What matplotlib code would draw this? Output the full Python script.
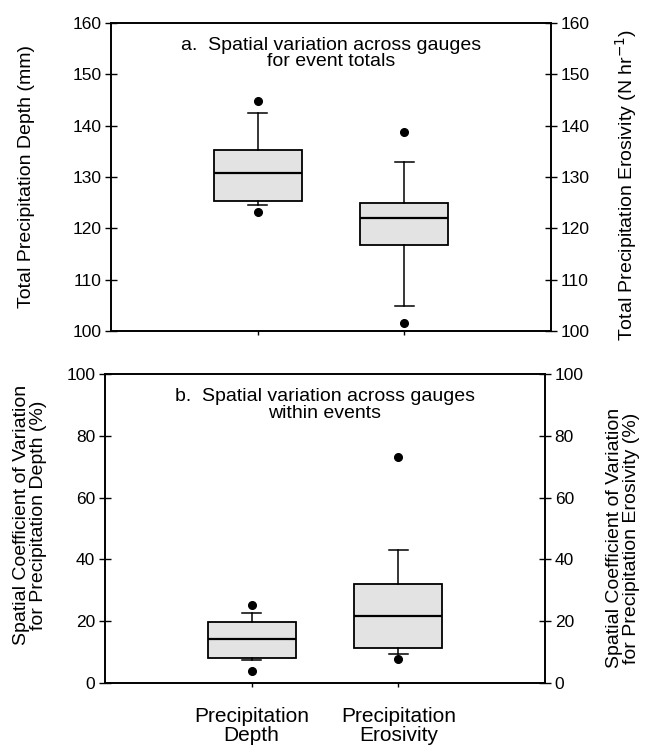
import matplotlib
matplotlib.use("Agg")
import matplotlib.pyplot as plt

plt.rcParams['font.family'] = ['Liberation Sans', 'DejaVu Sans']

# ---- data ----
categories = ["Precipitation\nDepth", "Precipitation\nErosivity"]

# panel a: event totals (q1, median, q3, whisker low, whisker high)
depth_total = [125.4, 130.7, 135.2, 124.5, 142.5]
depth_total_out = [144.8, 123.2]
eros_total = [116.7, 122.0, 125.0, 104.9, 133.0]
eros_total_out = [138.8, 101.6]

# panel b: spatial CV within events (%)
depth_cv = [8.1, 14.4, 19.6, 7.3, 22.8]
depth_cv_out = [25.3, 3.8]
eros_cv = [11.2, 21.6, 32.2, 9.5, 43.0]
eros_cv_out = [73.3, 7.8]

yticks_a = [100, 110, 120, 130, 140, 150, 160]
yticks_b = [0, 20, 40, 60, 80, 100]


def stats(vals, out):
    q1, med, q3, lo, hi = vals
    return dict(q1=q1, med=med, q3=q3, whislo=lo, whishi=hi, fliers=out)


box_kw = dict(widths=0.6, capwidths=0.13, patch_artist=True,
              boxprops=dict(facecolor="#e3e3e3", edgecolor="black", linewidth=1.3),
              medianprops=dict(color="black", linewidth=1.6),
              whiskerprops=dict(color="black", linewidth=1.1),
              capprops=dict(color="black", linewidth=1.1),
              flierprops=dict(marker="o", markerfacecolor="black",
                              markeredgecolor="black", markersize=5.5))


def panel(rect, left_stats, right_stats, ylim, yticks, title, xlabels):
    ax = fig.add_axes(rect)
    ax2 = ax.twinx()
    ax.bxp([left_stats], positions=[1], **box_kw)
    ax2.bxp([right_stats], positions=[2], **box_kw)
    for a in (ax, ax2):
        a.set_xlim(0, 3)
        a.set_ylim(*ylim)
        a.set_yticks(yticks)
        a.tick_params(axis="y", direction="inout", length=8, width=1.0,
                      labelsize=12.5, pad=3)
        for s in a.spines.values():
            s.set_linewidth(1.2)
    ax.set_xticks([1, 2])
    ax.tick_params(axis="x", direction="out", length=3, width=1.0,
                   labelsize=15, pad=14)
    if xlabels:
        ax.set_xticklabels(xlabels, linespacing=1.0)
    else:
        ax.set_xticklabels(["", ""])
    ax.text(0.5, 0.90, title, transform=ax.transAxes, ha="center",
            va="center", fontsize=14, linespacing=0.95)
    return ax, ax2


fig = plt.figure(figsize=(6.47, 7.51), dpi=100)
W, H = 647, 751

# panel a
panel([111 / W, 1 - 331 / H, 440 / W, 308 / H],
      stats(depth_total, depth_total_out), stats(eros_total, eros_total_out),
      (100, 160), yticks_a,
      "a.  Spatial variation across gauges\nfor event totals", None)
fig.text(27 / W, 1 - 177 / H, "Total Precipitation Depth (mm)",
         rotation=90, ha="center", va="center", fontsize=14)
fig.text(626 / W, 1 - 185 / H, "Total Precipitation Erosivity (N hr$^{-1}$)",
         rotation=90, ha="center", va="center", fontsize=14)

# panel b
panel([105 / W, 1 - 683 / H, 440 / W, 309 / H],
      stats(depth_cv, depth_cv_out), stats(eros_cv, eros_cv_out),
      (0, 100), yticks_b,
      "b.  Spatial variation across gauges\nwithin events", categories)
fig.text(30 / W, 1 - 515 / H,
         "Spatial Coefficient of Variation\nfor Precipitation Depth (%)",
         rotation=90, ha="center", va="center", fontsize=14, linespacing=1.0)
fig.text(623 / W, 1 - 538 / H,
         "Spatial Coefficient of Variation\nfor Precipitation Erosivity (%)",
         rotation=90, ha="center", va="center", fontsize=14, linespacing=1.0)

fig.savefig("out.png", dpi=100)
